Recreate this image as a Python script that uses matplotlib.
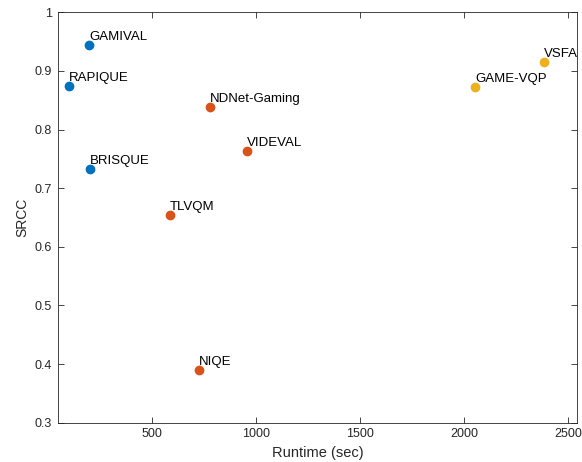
import matplotlib
matplotlib.use("Agg")
import matplotlib.pyplot as plt

plt.rcParams['font.family'] = ['Liberation Sans', 'DejaVu Sans']

# Runtime vs. SRCC for each quality model, grouped by colour
names_blue = ["GAMIVAL", "RAPIQUE", "BRISQUE"]
runtime_blue = [201, 103, 204]
srcc_blue = [0.944, 0.875, 0.733]

names_orange = ["NDNet-Gaming", "VIDEVAL", "TLVQM", "NIQE"]
runtime_orange = [779, 958, 588, 727]
srcc_orange = [0.838, 0.763, 0.655, 0.390]

names_yellow = ["GAME-VQP", "VSFA"]
runtime_yellow = [2052, 2385]
srcc_yellow = [0.872, 0.915]

x_ticks = [500, 1000, 1500, 2000, 2500]
y_ticks = [0.3, 0.4, 0.5, 0.6, 0.7, 0.8, 0.9, 1.0]
y_ticklabels = ["0.3", "0.4", "0.5", "0.6", "0.7", "0.8", "0.9", "1"]

groups = [
    (names_blue, runtime_blue, srcc_blue, "#0072BD"),
    (names_orange, runtime_orange, srcc_orange, "#D95319"),
    (names_yellow, runtime_yellow, srcc_yellow, "#EDB120"),
]

fig = plt.figure(figsize=(5.82, 4.62), dpi=100)
ax = fig.add_axes([0.0991, 0.0851, 0.8929, 0.8883])

for names, xs, ys, color in groups:
    ax.plot(xs, ys, linestyle="none", marker="o", markersize=6,
            markerfacecolor=color, markeredgecolor=color)
    for n, x, y in zip(names, xs, ys):
        ax.annotate(n, (x, y), xytext=(0, 5), textcoords="offset pixels",
                    ha="left", va="baseline", fontsize=9.5, color="black")

ax.set_xlim(49, 2543)
ax.set_ylim(0.3, 1.0)
ax.set_xticks(x_ticks)
ax.set_xticklabels([str(t) for t in x_ticks])
ax.set_yticks(y_ticks)
ax.set_yticklabels(y_ticklabels)

axis_color = "#262626"
for side in ax.spines.values():
    side.set_color(axis_color)
    side.set_linewidth(0.6)
ax.tick_params(direction="in", length=4, width=0.6, colors=axis_color,
               labelsize=9, top=True, right=True, pad=4)
ax.tick_params(labelcolor=axis_color)

ax.set_xlabel("Runtime (sec)", fontsize=10.5, color=axis_color, labelpad=4.5)
ax.set_ylabel("SRCC", fontsize=10, color=axis_color, labelpad=4)

fig.savefig("out.png", dpi=100)
